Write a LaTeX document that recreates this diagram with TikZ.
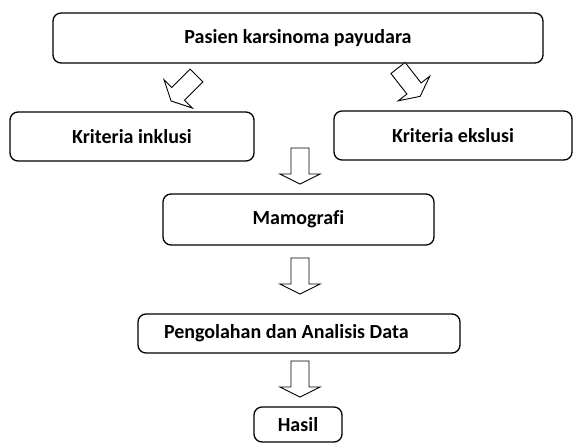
\documentclass[tikz,border=0pt]{standalone}
\usepackage{fontspec}
\setmainfont{Carlito}[Ligatures=NoCommon]
\tikzset{
  kotak/.style={draw, line width=1.3pt, rounded corners=8pt, font=\fontsize{20}{24}\selectfont\bfseries},
  panah/.style={draw, line width=0.9pt, fill=white, line join=miter},
  pics/blokpanah/.style={code={
    \draw[panah] (0,-9) -- (26,-9) -- (26,-20) -- (36,0) -- (26,20) -- (26,9) -- (0,9) -- cycle;
  }}
}
\begin{document}
\begin{tikzpicture}[x=1pt,y=-1pt]
                \useasboundingbox (0,0) rectangle (574,445);
                \node[kotak, minimum width=490pt, minimum height=50pt] (pasien) at (298,38) {Pasien karsinoma payudara};
                \node[kotak, minimum width=244pt, minimum height=49pt] (inklusi) at (132,136.5) {Kriteria inklusi};
                \node[kotak, minimum width=238pt, minimum height=49pt] (ekslusi) at (453,135.5) {Kriteria ekslusi};
                \node[kotak, minimum width=271pt, minimum height=51pt] (mamografi) at (298.5,219.5) {Mamografi};
                \node[kotak, minimum width=322pt, minimum height=39pt] (olah) at (299,333.5) {\makebox[270pt][l]{Pengolahan dan Analisis Data}};
                \node[kotak, minimum width=88pt, minimum height=35pt] (hasil) at (298,424.5) {Hasil};
                \pic (kekiri) [rotate=-135] at (196.5,75.5) {blokpanah};
                \pic (kekanan) [rotate=-52] at (398,68) {blokpanah};
                \pic (kemamo) [rotate=-90] at (300,148) {blokpanah};
                \pic (keolah) [rotate=-90] at (300,258) {blokpanah};
                \pic (kehasil) [rotate=-90] at (300,361) {blokpanah};
            \end{tikzpicture}
\end{document}
